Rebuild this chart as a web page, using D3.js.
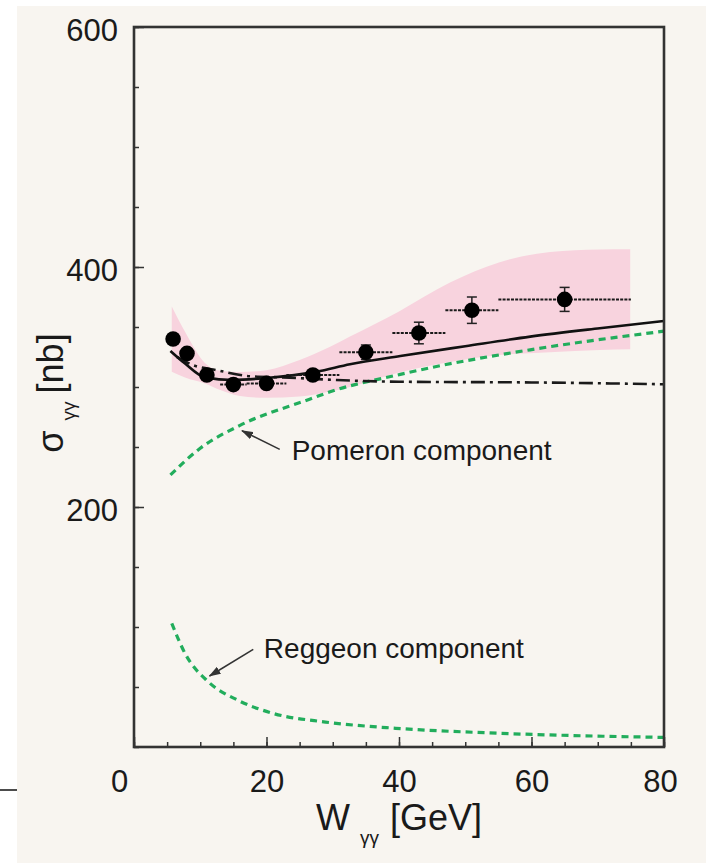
<!DOCTYPE html>
<html>
<head>
<meta charset="utf-8">
<script src="https://cdn.jsdelivr.net/npm/d3@7"></script>
<style>
    html, body { margin: 0; padding: 0; background: #fff; }
    svg { display: block; font-family: "Liberation Sans", Arial, Helvetica, sans-serif; }
</style>
</head>
<body>
<div id="chart"></div>
<script>
// measured points: W [GeV], sigma [nb], stat error, bin edges
var pointW = [5.9, 8.0, 11.0, 15.0, 20.0, 27.0, 35.0, 43.0, 51.0, 65.0];
var pointSigma = [340, 328, 310, 302, 303, 310, 329, 345, 364, 373];
var pointErr = [4, 4, 4, 4, 4, 4, 6, 9, 11, 10];
var binLo = [5.9, 8.0, 10, 13, 17, 23, 31, 39, 47, 55];
var binHi = [5.9, 8.0, 12, 17, 23, 31, 39, 47, 55, 75];

// pink uncertainty band
var bandW = [5.7, 7.7, 10.7, 13, 16, 20, 25, 29.6, 32.6, 40, 47.7, 55.2, 62.8, 70.3, 74.9];
var bandHi = [367, 346, 320, 313.5, 312.5, 314, 322.5, 333.5, 342, 363, 387, 404, 412.5, 414.6, 414.8];
var bandLo = [312.7, 308, 303, 297.5, 292.5, 291, 292, 296.2, 300, 312, 320.8, 326.7, 329, 330.8, 331.4];

// total fit (solid)
var fitW = [5.5, 7.7, 10.7, 14.9, 20, 27.6, 32.6, 40.2, 50, 59.8, 70.3, 80];
var fitS = [330, 319.5, 308, 305.8, 307.5, 312.8, 319, 325.8, 334, 342, 349, 355];

// second model (dash-dot)
var altW = [6.5, 8.9, 12.5, 17.5, 22.5, 30.6, 40, 60, 80];
var altS = [325, 318.3, 314, 309, 308, 305.8, 304.4, 303.8, 302.3];

// pomeron and reggeon components
var pomW = [5.5, 10, 16, 26.6, 29.6, 40.2, 44.7, 59.8, 80];
var pomS = [226.7, 249, 268, 290, 296, 310.5, 316, 331, 346.5];
var regW = [5.7, 7.7, 11.2, 15.6, 21, 28.9, 39.5, 55.4, 80];
var regS = [103, 78, 54.4, 39.2, 28, 20.8, 15.6, 11.4, 8];

var xTicks = [0, 20, 40, 60, 80];
var yTicks = [200, 400, 600];

var width = 706,
    height = 863;

var x = d3.scaleLinear().domain([0, 80]).range([134, 664]);
var y = d3.scaleLinear().domain([0, 600]).range([747, 27]);

var svg = d3.select('#chart').append('svg')
    .attr('width', width)
    .attr('height', height);

svg.append('rect')
    .attr('x', 17).attr('y', 6)
    .attr('width', width - 17).attr('height', height - 6)
    .attr('fill', '#f8f5f0');

svg.append('line')
    .attr('x1', 0).attr('x2', 17).attr('y1', 790).attr('y2', 790)
    .attr('stroke', '#111').attr('stroke-width', 1.5);

var defs = svg.append('defs');
defs.append('marker')
    .attr('id', 'arrow')
    .attr('markerUnits', 'userSpaceOnUse')
    .attr('markerWidth', 12).attr('markerHeight', 8)
    .attr('refX', 11).attr('refY', 4)
    .attr('orient', 'auto')
    .append('path')
    .attr('d', 'M0,0 L12,4 L0,8 z')
    .attr('fill', '#333');

// band
var band = bandW.map(function(w, i) { return {w: w, lo: bandLo[i], hi: bandHi[i]}; });
svg.append('path')
    .datum(band)
    .attr('fill', '#f8d3de')
    .attr('d', d3.area()
        .x(function(d) { return x(d.w); })
        .y0(function(d) { return y(d.lo); })
        .y1(function(d) { return y(d.hi); })
        .curve(d3.curveMonotoneX));

function curve(ws, ss) {
    return d3.line()
        .x(function(d) { return x(d[0]); })
        .y(function(d) { return y(d[1]); })
        .curve(d3.curveMonotoneX)(d3.zip(ws, ss));
}

svg.append('path')
    .attr('d', curve(pomW, pomS))
    .attr('fill', 'none').attr('stroke', '#22ad5c')
    .attr('stroke-width', 3.2).attr('stroke-dasharray', '7,5');

svg.append('path')
    .attr('d', curve(regW, regS))
    .attr('fill', 'none').attr('stroke', '#22ad5c')
    .attr('stroke-width', 3.2).attr('stroke-dasharray', '7,5');

svg.append('path')
    .attr('d', curve(altW, altS))
    .attr('fill', 'none').attr('stroke', '#1a1a1a')
    .attr('stroke-width', 2.6).attr('stroke-dasharray', '14,5,3,5');

svg.append('path')
    .attr('d', curve(fitW, fitS))
    .attr('fill', 'none').attr('stroke', '#111')
    .attr('stroke-width', 2.6);

// error bars + points
var pts = pointW.map(function(w, i) {
    return {w: w, s: pointSigma[i], e: pointErr[i], lo: binLo[i], hi: binHi[i]};
});

var pg = svg.append('g').selectAll('g')
    .data(pts)
    .enter().append('g');

pg.append('line')
    .attr('x1', function(d) { return x(d.lo); })
    .attr('x2', function(d) { return x(d.hi); })
    .attr('y1', function(d) { return y(d.s); })
    .attr('y2', function(d) { return y(d.s); })
    .attr('stroke', '#1a1a1a').attr('stroke-width', 2)
    .attr('stroke-dasharray', '3,1.2');

pg.append('line')
    .attr('x1', function(d) { return x(d.w); })
    .attr('x2', function(d) { return x(d.w); })
    .attr('y1', function(d) { return y(d.s - d.e); })
    .attr('y2', function(d) { return y(d.s + d.e); })
    .attr('stroke', '#222').attr('stroke-width', 1.5);

[-1, 1].forEach(function(sgn) {
    pg.append('line')
        .attr('x1', function(d) { return x(d.w) - 5; })
        .attr('x2', function(d) { return x(d.w) + 5; })
        .attr('y1', function(d) { return y(d.s + sgn * d.e); })
        .attr('y2', function(d) { return y(d.s + sgn * d.e); })
        .attr('stroke', '#222').attr('stroke-width', 1.5);
});

pg.append('circle')
    .attr('cx', function(d) { return x(d.w); })
    .attr('cy', function(d) { return y(d.s); })
    .attr('r', 7.8)
    .attr('fill', '#000');

// annotations
function note(txt, tx, ty, ax0, ay0, ax1, ay1) {
    svg.append('line')
        .attr('x1', x(ax0)).attr('y1', y(ay0))
        .attr('x2', x(ax1)).attr('y2', y(ay1))
        .attr('stroke', '#333').attr('stroke-width', 1.6)
        .attr('marker-end', 'url(#arrow)');
    svg.append('text')
        .attr('x', x(tx)).attr('y', y(ty))
        .attr('font-size', 28).attr('fill', '#1a1a1a')
        .text(txt);
}
note('Pomeron component', 23.8, 239, 22.0, 248, 16.3, 263.6);
note('Reggeon component', 19.6, 73.9, 18.0, 81.4, 11.4, 59.2);

// axes
var xAxis = svg.append('g').attr('transform', 'translate(0,747)');
xAxis.append('g')
    .call(d3.axisBottom(x).tickValues(d3.range(0, 81, 5)).tickSize(-5).tickFormat(''));
xAxis.append('g')
    .call(d3.axisBottom(x).tickValues(xTicks).tickSize(-10).tickPadding(23));
xAxis.selectAll('.domain').remove();
xAxis.selectAll('text')
    .attr('font-size', 31)
    .attr('font-family', '"Liberation Sans", Arial, sans-serif')
    .attr('fill', '#1a1a1a')
    .attr('dx', function(d) { return d === 0 ? -15 : (d === 80 ? -4 : 0); });

var yAxis = svg.append('g').attr('transform', 'translate(134,0)');
yAxis.append('g')
    .call(d3.axisLeft(y).tickValues(d3.range(0, 601, 50)).tickSize(-5).tickFormat(''));
yAxis.append('g')
    .call(d3.axisLeft(y).tickValues(yTicks).tickSize(-10).tickPadding(16));
yAxis.selectAll('.domain').remove();
yAxis.selectAll('text')
    .attr('font-size', 31)
    .attr('font-family', '"Liberation Sans", Arial, sans-serif')
    .attr('fill', '#1a1a1a')
    .attr('dy', '0.42em');

svg.selectAll('.tick line').attr('stroke', '#333').attr('stroke-width', 1.5);

svg.append('rect')
    .attr('x', x(0)).attr('y', y(600))
    .attr('width', x(80) - x(0)).attr('height', y(0) - y(600))
    .attr('fill', 'none').attr('stroke', '#333').attr('stroke-width', 2.6);

// axis titles
var xt = svg.append('text')
    .attr('x', 399).attr('y', 830)
    .attr('text-anchor', 'middle')
    .attr('font-size', 36).attr('fill', '#1a1a1a');
xt.append('tspan').text('W');
xt.append('tspan').attr('dx', 10).attr('dy', 14).attr('font-size', 19).text('γγ');
xt.append('tspan').attr('dx', 11).attr('dy', -14).text('[GeV]');

var yt = svg.append('text')
    .attr('transform', 'translate(63,393) rotate(-90)')
    .attr('text-anchor', 'middle')
    .attr('font-size', 36).attr('fill', '#1a1a1a');
yt.append('tspan').text('σ');
yt.append('tspan').attr('dx', 10).attr('dy', 12).attr('font-size', 19).text('γγ');
yt.append('tspan').attr('dx', 8).attr('dy', -12).text('[nb]');
</script>
</body>
</html>
